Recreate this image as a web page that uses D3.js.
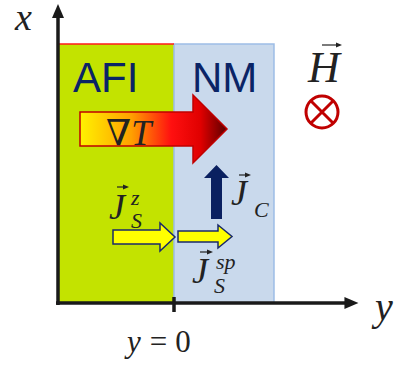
<!DOCTYPE html>
<html>
<head>
<meta charset="utf-8">
<script src="https://cdn.jsdelivr.net/npm/d3@7"></script>
<style>
body { margin: 0; background: #fff; }
.math { font-family: "Liberation Serif", "DejaVu Serif", serif; font-style: italic; fill: #222; }
.lbl { font-family: "Liberation Sans", Arial, sans-serif; fill: #0a2466; }
</style>
</head>
<body>
<svg id="svg1" width="395" height="366"></svg>
<script>
// regions along the y axis (AFI to the left of y = 0, NM to the right)
var regions = ["AFI", "NM"];
var regionStart = [-1, 0];
var regionEnd = [0, 0.862];
var regionFill = ["#c3e300", "#c9d9ec"];
var axisEnd = 1.59;
var tickValues = [0];

var svg = d3.select("#svg1");

// horizontal = physical y, vertical = physical x
var y = d3.scaleLinear().domain([-1, 0]).range([58, 174]);
var x = d3.scaleLinear().domain([0, 1]).range([303, 44]);

var defs = svg.append("defs");
var grad = defs.append("linearGradient").attr("id", "gradT")
    .attr("x1", "0%").attr("x2", "100%").attr("y1", "0%").attr("y2", "0%");
grad.append("stop").attr("offset", "0%").attr("stop-color", "#fff200");
grad.append("stop").attr("offset", "35%").attr("stop-color", "#ffa000");
grad.append("stop").attr("offset", "62%").attr("stop-color", "#ff1010");
grad.append("stop").attr("offset", "82%").attr("stop-color", "#e00000");
grad.append("stop").attr("offset", "100%").attr("stop-color", "#5a0000");

// regions
svg.selectAll("rect.region")
    .data(regions)
    .enter().append("rect")
    .attr("class", "region")
    .attr("x", function(d, i) { return y(regionStart[i]); })
    .attr("y", x(1))
    .attr("width", function(d, i) { return y(regionEnd[i]) - y(regionStart[i]); })
    .attr("height", x(0) - x(1))
    .attr("fill", function(d, i) { return regionFill[i]; })
    .attr("stroke", function(d, i) { return i == 1 ? "#9dbde6" : "none"; })
    .attr("stroke-width", 1.5);

// red top edge of AFI
svg.append("line")
    .attr("x1", y(-1)).attr("x2", y(0))
    .attr("y1", x(1)).attr("y2", x(1))
    .attr("stroke", "#ff1a1a").attr("stroke-width", 1.5);

svg.selectAll("text.lbl")
    .data(regions)
    .enter().append("text")
    .attr("class", "lbl")
    .attr("x", function(d, i) { return i == 0 ? 73 : 192; })
    .attr("y", 92)
    .attr("font-size", 42)
    .text(function(d) { return d; });

// temperature gradient arrow
svg.append("path")
    .attr("d", "M80,112 L193,112 L193,95 L227,129 L193,163 L193,146 L80,146 Z")
    .attr("fill", "url(#gradT)")
    .attr("stroke", "#c00000").attr("stroke-width", 1.5);
var gt = svg.append("text").attr("class", "math").attr("x", 106).attr("y", 145).attr("font-size", 36);
gt.append("tspan").style("font-style", "normal").text("\u2207");
gt.append("tspan").text("T");

// axes
var ax = svg.append("g").attr("stroke", "#1a1a1a").attr("fill", "#1a1a1a");
ax.append("line").attr("x1", y(-1)).attr("x2", y(-1)).attr("y1", x(0) + 2).attr("y2", 14).attr("stroke-width", 3.5);
ax.append("path").attr("d", "M" + y(-1) + ",4 L" + (y(-1) + 6) + ",18 L" + (y(-1) - 6) + ",18 Z").attr("stroke", "none");
ax.append("line").attr("x1", y(-1) - 2).attr("x2", y(axisEnd) - 8).attr("y1", x(0)).attr("y2", x(0)).attr("stroke-width", 3.5);
ax.append("path").attr("d", "M" + y(axisEnd) + "," + x(0) + " L" + (y(axisEnd) - 14) + "," + (x(0) - 6) + " L" + (y(axisEnd) - 14) + "," + (x(0) + 6) + " Z").attr("stroke", "none");
ax.selectAll("line.tick").data(tickValues).enter().append("line")
    .attr("x1", function(d) { return y(d); }).attr("x2", function(d) { return y(d); })
    .attr("y1", x(0) - 6).attr("y2", x(0) + 9).attr("stroke-width", 3.5);

// tick label y = 0
var tl = svg.append("text").attr("class", "math").attr("x", y(tickValues[0]) - 47).attr("y", 352).attr("font-size", 31);
tl.append("tspan").text("y");
tl.append("tspan").attr("dx", 9).style("font-style", "normal").text("=");
tl.append("tspan").attr("dx", 8).style("font-style", "normal").text(tickValues[0]);

svg.append("text").attr("class", "math").attr("x", 15).attr("y", 30).attr("font-size", 38).text("x");
svg.append("text").attr("class", "math").attr("x", 375).attr("y", 320).attr("font-size", 40).text("y");

// vector labels: letter, position, sup / sub and arrow above
var vecs = [
    { t: "H", x: 308, y: 82, s: 44, ay: 45, ax: [322, 342] },
    { t: "J", x: 109, y: 219, s: 36, ay: 187, ax: [117, 129], sup: "z", supx: 131, supy: 205, sub: "S", subx: 131, suby: 228 },
    { t: "J", x: 231, y: 205, s: 36, ay: 175, ax: [239, 251], sub: "C", subx: 254, suby: 217 },
    { t: "J", x: 192, y: 283, s: 36, ay: 252, ax: [200, 213], sup: "sp", supx: 216, supy: 269, sub: "S", subx: 214, suby: 293 }
];
vecs.forEach(function(v) {
    var t = svg.append("text").attr("class", "math").attr("font-size", v.s);
    t.append("tspan").attr("x", v.x).attr("y", v.y).text(v.t);
    if (v.sup) t.append("tspan").attr("x", v.supx).attr("y", v.supy).attr("font-size", 22).text(v.sup);
    if (v.sub) t.append("tspan").attr("x", v.subx).attr("y", v.suby).attr("font-size", 22).text(v.sub);
    svg.append("line").attr("x1", v.ax[0]).attr("x2", v.ax[1] - 3).attr("y1", v.ay).attr("y2", v.ay)
        .attr("stroke", "#222").attr("stroke-width", 1.2);
    svg.append("path").attr("d", "M" + v.ax[1] + "," + v.ay + " L" + (v.ax[1] - 6) + "," + (v.ay - 2.5) + " L" + (v.ax[1] - 6) + "," + (v.ay + 2.5) + " Z")
        .attr("fill", "#222");
});

// field into page
svg.append("circle").attr("cx", 322).attr("cy", 112).attr("r", 16)
    .attr("fill", "none").attr("stroke", "#c00000").attr("stroke-width", 3);
svg.append("path").attr("d", "M311,101 L333,123 M333,101 L311,123")
    .attr("stroke", "#c00000").attr("stroke-width", 3);

// charge current arrow
svg.append("path")
    .attr("d", "M211,219 L211,178 L204,178 L216.5,165 L229,178 L222,178 L222,219 Z")
    .attr("fill", "#0a2060");

// spin current arrows
svg.append("path")
    .attr("d", "M113,230 L160,230 L160,223 L175,237 L160,251 L160,244 L113,244 Z")
    .attr("fill", "#ffff00").attr("stroke", "#1a2a6a").attr("stroke-width", 1.5);
svg.append("path")
    .attr("d", "M178,231 L218,231 L218,225 L232,236.5 L218,248 L218,242 L178,242 Z")
    .attr("fill", "#ffff00").attr("stroke", "#1a2a6a").attr("stroke-width", 1.5);
</script>
</body>
</html>
